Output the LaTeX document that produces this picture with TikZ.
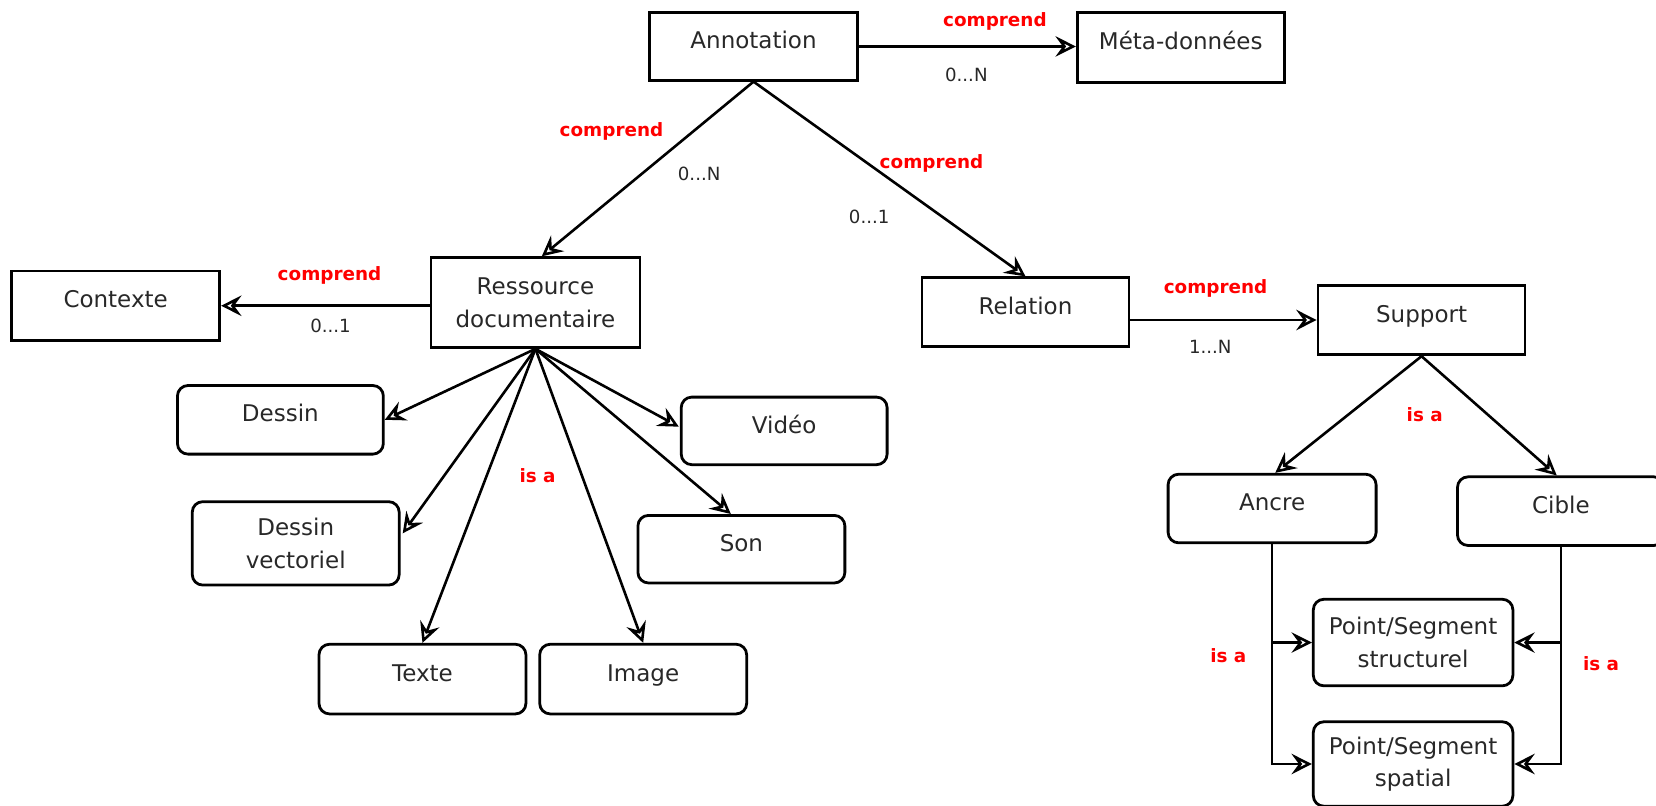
\documentclass[tikz,border=0pt]{standalone}
\usepackage{fontspec}
\setmainfont{DejaVu Sans}
\usetikzlibrary{arrows.meta,calc}
\definecolor{lblred}{RGB}{255,0,0}
\definecolor{txtgray}{RGB}{40,40,40}
\begin{document}
\begin{tikzpicture}[x=0.02cm,y=-0.02cm,
  box/.style={draw,line width=1.5pt,align=center,inner sep=0pt,text=txtgray,
    font=\fontsize{12.4}{17.6}\selectfont},
  rbox/.style={box,rounded corners=0.2cm},
  one/.style={text height=0.35cm,text depth=0.27cm},
  arr/.style={-{Stealth[open,length=11pt,width=11pt,inset=4pt,line width=1.4pt]},line width=1.4pt},
  red/.style={text=lblred,font=\fontsize{9.9}{12}\selectfont\bfseries},
  card/.style={text=txtgray,font=\fontsize{9.8}{12}\selectfont}]
\useasboundingbox (0,0) rectangle (1568,763);

% boxes
\node[box,one,minimum width=3.94cm,minimum height=1.28cm] (ann) at (713.5,44) {Annotation};
\node[box,one,minimum width=3.92cm,minimum height=1.32cm] (meta) at (1118,45) {Méta-données};
\node[box,minimum width=3.96cm,minimum height=1.70cm] (res) at (507,286.5) {Ressource\\documentaire};
\node[box,one,minimum width=3.94cm,minimum height=1.32cm] (ctx) at (109.5,289.5) {Contexte};
\node[box,one,minimum width=3.92cm,minimum height=1.30cm] (rel) at (971,295.5) {Relation};
\node[box,one,minimum width=3.92cm,minimum height=1.32cm] (sup) at (1346,303) {Support};

\node[rbox,one,minimum width=3.90cm,minimum height=1.30cm] (dessin) at (265.5,397.5) {Dessin};
\node[rbox,one,minimum width=3.90cm,minimum height=1.28cm] (video) at (742.5,408) {Vidéo};
\node[rbox,minimum width=3.92cm,minimum height=1.58cm] (dvec) at (280,514.5) {Dessin\\vectoriel};
\node[rbox,one,minimum width=3.92cm,minimum height=1.28cm] (son) at (702,520) {Son};
\node[rbox,one,minimum width=3.92cm,minimum height=1.32cm] (texte) at (400,643) {Texte};
\node[rbox,one,minimum width=3.92cm,minimum height=1.32cm] (image) at (609,643) {Image};

\node[rbox,one,minimum width=3.94cm,minimum height=1.30cm] (ancre) at (1204.5,481.5) {Ancre};
\node[rbox,one,minimum width=3.92cm,minimum height=1.30cm] (cible) at (1478,484) {Cible};
\node[rbox,minimum width=3.78cm,minimum height=1.64cm] (pss) at (1338,608.4) {Point/Segment\\structurel};
\node[rbox,minimum width=3.78cm,minimum height=1.60cm] (psp) at (1338,723.4) {Point/Segment\\spatial};

% comprend connectors
\draw[arr] (ann.east) -- (ann.east -| meta.west);
\draw[arr] (ann.south) -- ($(res.north)+(6,0)$);
\draw[arr] (ann.south) -- (rel.north);
\draw[arr] (res.west |- ctx) -- (ctx.east);
\draw[arr] (rel.east |- sup) -- (sup.west);

% is a fan
\draw[arr] (res.south) -- (dessin.east);
\draw[arr] (res.south) -- ($(dvec.east)+(2,-9.5)$);
\draw[arr] (res.south) -- (texte.north);
\draw[arr] (res.south) -- (image.north);
\draw[arr] (res.south) -- ($(son.north)+(-10,0)$);
\draw[arr] (res.south) -- ($(video.west)+(-1,-4)$);

% support
\draw[arr] (sup.south) -- ($(ancre.north)+(3,0)$);
\draw[arr] (sup.south) -- ($(cible.north)+(-4,0)$);

% elbows
\draw[arr] (ancre.south) |- (pss.west);
\draw[arr] (ancre.south) |- (psp.west);
\draw[arr] (cible.south) |- (pss.east);
\draw[arr] (cible.south) |- (psp.east);

% labels
\node[red] (l1) at (942,20) {comprend};
\node[card] (c1) at (915,71) {0...N};
\node[red] (l2) at (579,124) {comprend};
\node[card] (c2) at (662,165) {0...N};
\node[red] (l3) at (882,155) {comprend};
\node[card] (c3) at (823,205) {0...1};
\node[red] (l4) at (312,261) {comprend};
\node[card] (c4) at (313,309) {0...1};
\node[red] (l5) at (1151,273) {comprend};
\node[card] (c5) at (1146,328) {1...N};
\node[red] (i1) at (509,450) {is a};
\node[red] (i2) at (1349,393) {is a};
\node[red] (i3) at (1163,621) {is a};
\node[red] (i4) at (1516,628) {is a};
\end{tikzpicture}
\end{document}
